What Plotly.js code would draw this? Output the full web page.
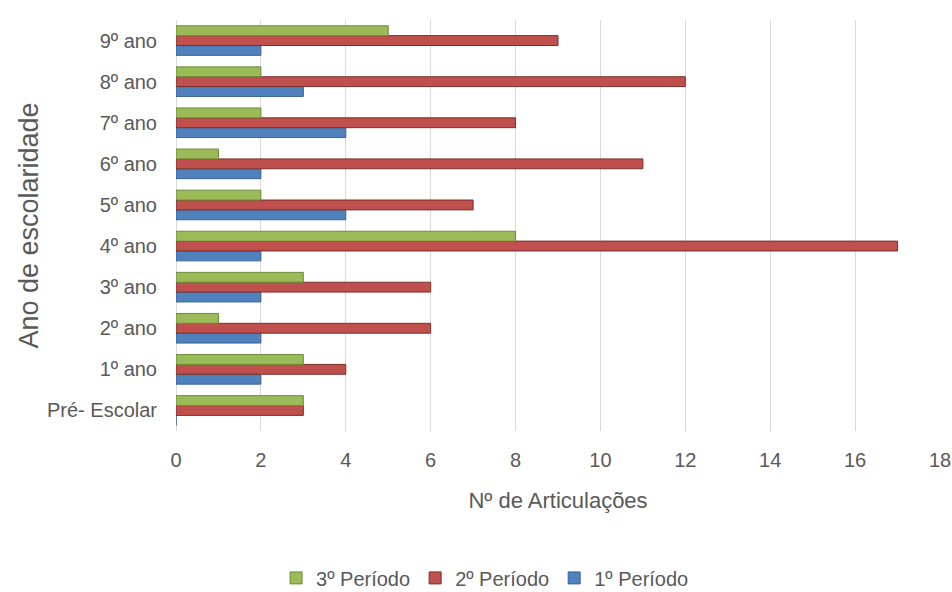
<!DOCTYPE html>
<html><head><meta charset="utf-8">
<script src="https://cdn.plot.ly/plotly-3.0.1.min.js"></script>
<style>html,body{margin:0;padding:0;background:#fff;}#chart{width:952px;height:592px;}</style>
</head><body><div id="chart"></div>
<script>
var categories = ["Pré- Escolar","1º ano","2º ano","3º ano","4º ano","5º ano","6º ano","7º ano","8º ano","9º ano"];
var periodo1 = [0,2,2,2,2,4,2,4,3,2];
var periodo2 = [3,4,6,6,17,7,11,8,12,9];
var periodo3 = [3,3,1,3,8,2,1,2,2,5];
var seriesNames = ["1º Período","2º Período","3º Período"];
var xTicks = [0,2,4,6,8,10,12,14,16,18];

var fontFam = '"Liberation Sans", Arial, sans-serif';
function tr(name, vals, color, line){
  return {type:'bar', orientation:'h', name:name, y:categories, x:vals,
    marker:{color:color, line:{color:line, width:1}}};
}
var data = [
  tr(seriesNames[0], periodo1, '#4F81BD', '#3a6396'),
  tr(seriesNames[1], periodo2, '#C0504D', '#7a2f2d'),
  tr(seriesNames[2], periodo3, '#9BBB59', '#6f8a3a')
];
var layout = {
  width:952, height:592,
  margin:{l:176, r:12, t:20, b:161, autoexpand:false},
  paper_bgcolor:'#fff', plot_bgcolor:'#fff',
  barmode:'group', bargap:0.28, bargroupgap:0,
  font:{family:fontFam, color:'#595959', size:20},
  xaxis:{range:[0,18], tickvals:xTicks, ticktext:xTicks.map(String), automargin:false,
    showgrid:true, gridcolor:'#d9d9d9', gridwidth:1, zeroline:true, zerolinecolor:'#d9d9d9',
    showline:false, ticks:'', ticklabelstandoff:15, ticklabeloverflow:'allow',
    tickfont:{family:fontFam, size:20, color:'#595959'},
    title:{text:'Nº de Articulações', font:{family:fontFam, size:22, color:'#595959'}, standoff:22}},
  yaxis:{type:'category', categoryorder:'array', categoryarray:categories, automargin:false,
    showgrid:false, showline:false, ticks:'', ticklabelstandoff:18,
    tickfont:{family:fontFam, size:20, color:'#595959'},
    title:{text:'Ano de escolaridade', font:{family:fontFam, size:27, color:'#595959'}, standoff:0}},
  legend:{orientation:'h', x:0.131, xanchor:'left', y:-0.31, yanchor:'top', traceorder:'reversed',
    font:{family:fontFam, size:20, color:'#595959'}, itemwidth:30},
  showlegend:true
};
Plotly.newPlot('chart', data, layout, {displayModeBar:false, staticPlot:true});
</script></body></html>
